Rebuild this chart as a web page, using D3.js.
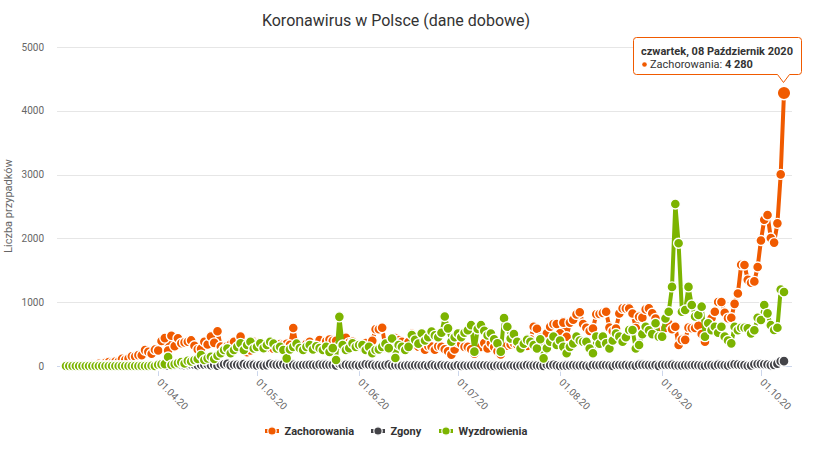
<!DOCTYPE html>
<html><head><meta charset="utf-8">
<script src="https://cdn.jsdelivr.net/npm/d3@7"></script>
<style>
body{margin:0;background:#fff}
svg{font-family:Roboto,"Noto Sans",sans-serif;display:block}
</style>
</head><body>
<svg id="c" width="816" height="450"></svg>
<script>
// ---- data (daily values from 04.03.2020 to 08.10.2020) ----
const startDate = "04.03.20";
const seriesNames = ["Zachorowania", "Zgony", "Wyzdrowienia"];
const zachorowania = [
  // March 4-31
  1,0,4,1,5,6,5,9,20,17,36,21,52,61,49,68,70,111,98,115,152,150,170,168,249,224,193,256,
  // April
  243,392,437,244,475,311,435,357,370,380,401,318,260,268,380,336,461,363,545,306,263,313,342,381,276,460,285,215,245,380,
  // May
  348,285,330,285,282,270,307,344,336,348,331,595,330,319,264,348,378,323,281,406,312,387,416,394,395,325,395,443,366,381,302,
  // June
  292,292,361,282,394,576,575,599,282,282,395,440,407,379,314,375,506,371,301,314,254,311,303,256,308,302,262,231,178,258,
  // July
  371,346,300,299,262,193,290,299,359,276,358,299,232,181,286,318,337,358,334,339,319,316,419,615,584,443,337,512,615,657,658,
  // August
  512,680,458,680,726,809,843,658,599,548,587,811,815,832,850,602,548,587,824,903,903,900,824,594,770,758,887,903,826,744,555,
  // September
  550,597,661,578,615,330,410,410,601,594,595,632,501,380,600,749,850,1002,1002,834,750,757,974,1136,1587,1584,1350,1306,1326,1552,
  // October 1-8
  1967,2292,2367,2006,1934,2236,3003,4280
];
const zgony = [
  0,0,0,0,0,0,0,0,1,1,1,0,0,2,0,1,0,0,2,1,2,4,5,0,2,2,1,4,
  9,5,9,4,13,8,21,17,14,15,23,20,13,21,20,23,14,19,5,24,28,36,10,19,19,14,30,16,20,18,
  8,16,6,14,33,23,18,20,26,8,11,18,8,11,15,16,17,17,11,21,18,18,15,18,8,35,16,19,14,13,15,
  8,16,27,21,18,8,13,7,14,21,9,12,10,5,8,10,8,13,11,8,11,3,17,10,5,14,9,9,1,3,
  11,2,8,3,8,12,10,10,12,9,2,2,7,4,5,8,12,5,2,7,8,14,7,6,8,3,2,19,12,17,10,
  1,4,6,9,13,7,7,10,4,1,16,12,11,14,11,7,2,15,16,12,14,9,12,5,18,18,15,13,11,15,2,
  17,15,15,18,10,8,8,13,12,16,14,12,6,4,14,14,9,18,16,12,8,20,25,21,15,14,5,8,27,31,
  30,28,23,13,18,37,75,76
];
const wyzdrowienia = [
  0,0,0,0,0,0,0,0,0,0,0,0,0,0,1,0,0,0,0,0,0,0,0,0,0,0,3,0,
  20,25,30,140,15,30,45,60,40,80,70,95,110,170,95,120,145,110,160,200,250,275,200,250,300,355,250,330,380,275,
  300,355,280,330,380,350,275,300,250,120,260,300,350,280,250,300,330,260,310,280,250,300,220,280,95,770,330,250,280,355,300,
  330,330,250,300,200,250,260,300,350,280,430,125,330,300,250,300,485,410,350,510,400,450,540,480,450,520,775,590,380,450,
  510,450,520,560,640,225,580,640,550,480,510,420,355,225,750,615,430,500,380,275,350,410,380,330,275,420,120,280,380,460,330,
  400,300,200,300,355,460,400,380,380,275,200,460,350,460,355,275,400,510,460,380,450,565,565,275,330,500,615,560,500,670,460,
  460,745,850,1240,2540,1923,850,877,1240,955,775,800,930,460,670,560,615,520,615,460,400,355,615,560,600,600,590,510,560,757,
  720,955,825,640,565,600,1200,1160
];
const xTickLabels = ["01.04.20","01.05.20","01.06.20","01.07.20","01.08.20","01.09.20","01.10.20"];
const yTicks = [0,1000,2000,3000,4000,5000];
const colors = ["#f05a00", "#434348", "#7cb400"];
const tooltipHeader = "czwartek, 08 Październik 2020";

// ---- chart ----
const svg = d3.select("#c");
const parse = d3.utcParse("%d.%m.%y");
const d0 = parse(startDate);
const n = zachorowania.length;
const dates = d3.range(n).map(i => d3.utcDay.offset(d0, i));
const plotL = 57, plotR = 792;
const x = d3.scaleUtc().domain([dates[0], dates[n - 1]]).range([66, 784]);
const y = d3.scaleLinear().domain([0, 5000]).range([366, 47]);

// title
svg.append("text").attr("x", 396).attr("y", 26).attr("text-anchor", "middle")
  .attr("font-size", 16).attr("fill", "#333").text("Koronawirus w Polsce (dane dobowe)");

// grid + y labels
const gy = svg.append("g");
yTicks.forEach(v => {
  const yy = Math.round(y(v)) + 0.5;
  gy.append("line").attr("x1", plotL).attr("x2", plotR).attr("y1", yy).attr("y2", yy)
    .attr("stroke", "#e6e6e6").attr("stroke-width", 1);
  gy.append("text").attr("x", 44).attr("y", y(v) + 3.5).attr("text-anchor", "end")
    .attr("font-size", 10).attr("fill", "#666").text(v);
});
svg.append("text").attr("transform", "translate(12,206) rotate(-90)").attr("text-anchor", "middle")
  .attr("font-size", 11).attr("fill", "#666").text("Liczba przypadków");

// x axis
const gx = svg.append("g");
gx.append("line").attr("x1", plotL).attr("x2", plotR).attr("y1", 366.5).attr("y2", 366.5)
  .attr("stroke", "#ccd6eb");
xTickLabels.forEach(lbl => {
  const tx = Math.round(x(parse(lbl))) + 0.5;
  gx.append("line").attr("x1", tx).attr("x2", tx).attr("y1", 366).attr("y2", 376).attr("stroke", "#ccd6eb");
  gx.append("text").attr("transform", `translate(${tx - 2},${383}) rotate(45)`)
    .attr("font-size", 10).attr("fill", "#666").text(lbl);
});

// series
const allSeries = [zachorowania, zgony, wyzdrowienia];
const line = d3.line().x((d, i) => x(dates[i])).y(d => y(d));
allSeries.forEach((vals, si) => {
  const g = svg.append("g");
  g.append("path").attr("d", line(vals)).attr("fill", "none").attr("stroke", colors[si])
    .attr("stroke-width", 4).attr("stroke-linejoin", "round").attr("stroke-linecap", "round");
  g.selectAll("circle").data(vals).join("circle")
    .attr("cx", (d, i) => x(dates[i])).attr("cy", d => y(d)).attr("r", 5)
    .attr("fill", colors[si]).attr("stroke", "#fff").attr("stroke-width", 1.4);
});

// hovered point
svg.append("circle").attr("cx", x(dates[n - 1])).attr("cy", y(zachorowania[n - 1])).attr("r", 6.8)
  .attr("fill", colors[0]).attr("stroke", "#fff").attr("stroke-width", 1.5);

// legend
const legendX = [265, 371, 439];
const lg = svg.append("g");
seriesNames.forEach((name, si) => {
  const lx = legendX[si], ly = 431;
  lg.append("line").attr("x1", lx).attr("x2", lx + 14).attr("y1", ly).attr("y2", ly)
    .attr("stroke", colors[si]).attr("stroke-width", 4);
  lg.append("circle").attr("cx", lx + 7).attr("cy", ly).attr("r", 4.2)
    .attr("fill", colors[si]).attr("stroke", "#fff").attr("stroke-width", 1.2);
  lg.append("text").attr("x", lx + 19.5).attr("y", ly + 4).attr("font-size", 11)
    .attr("font-weight", "bold").attr("fill", "#333").text(name);
});

// tooltip
const tt = svg.append("g");
tt.append("path").attr("d",
  "M 636.5 37.5 L 798.5 37.5 Q 801.5 37.5 801.5 40.5 L 801.5 71.5 Q 801.5 74.5 798.5 74.5 " +
  "L 789.5 74.5 L 783.5 82.5 L 777.5 74.5 L 636.5 74.5 Q 633.5 74.5 633.5 71.5 L 633.5 40.5 Q 633.5 37.5 636.5 37.5 Z")
  .attr("fill", "rgba(255,255,255,0.95)").attr("stroke", colors[0]).attr("stroke-width", 1);
tt.append("text").attr("x", 641).attr("y", 55).attr("font-size", 11).attr("font-weight", "bold")
  .attr("fill", "#333").text(tooltipHeader);
tt.append("circle").attr("cx", 644.5).attr("cy", 64.5).attr("r", 2.3).attr("fill", colors[0]);
const t2 = tt.append("text").attr("x", 650).attr("y", 68).attr("font-size", 11).attr("fill", "#333");
t2.append("tspan").text(seriesNames[0] + ": ");
t2.append("tspan").attr("font-weight", "bold").text(d3.format(",")(zachorowania[n - 1]).replace(",", " "));
</script>
</body></html>
